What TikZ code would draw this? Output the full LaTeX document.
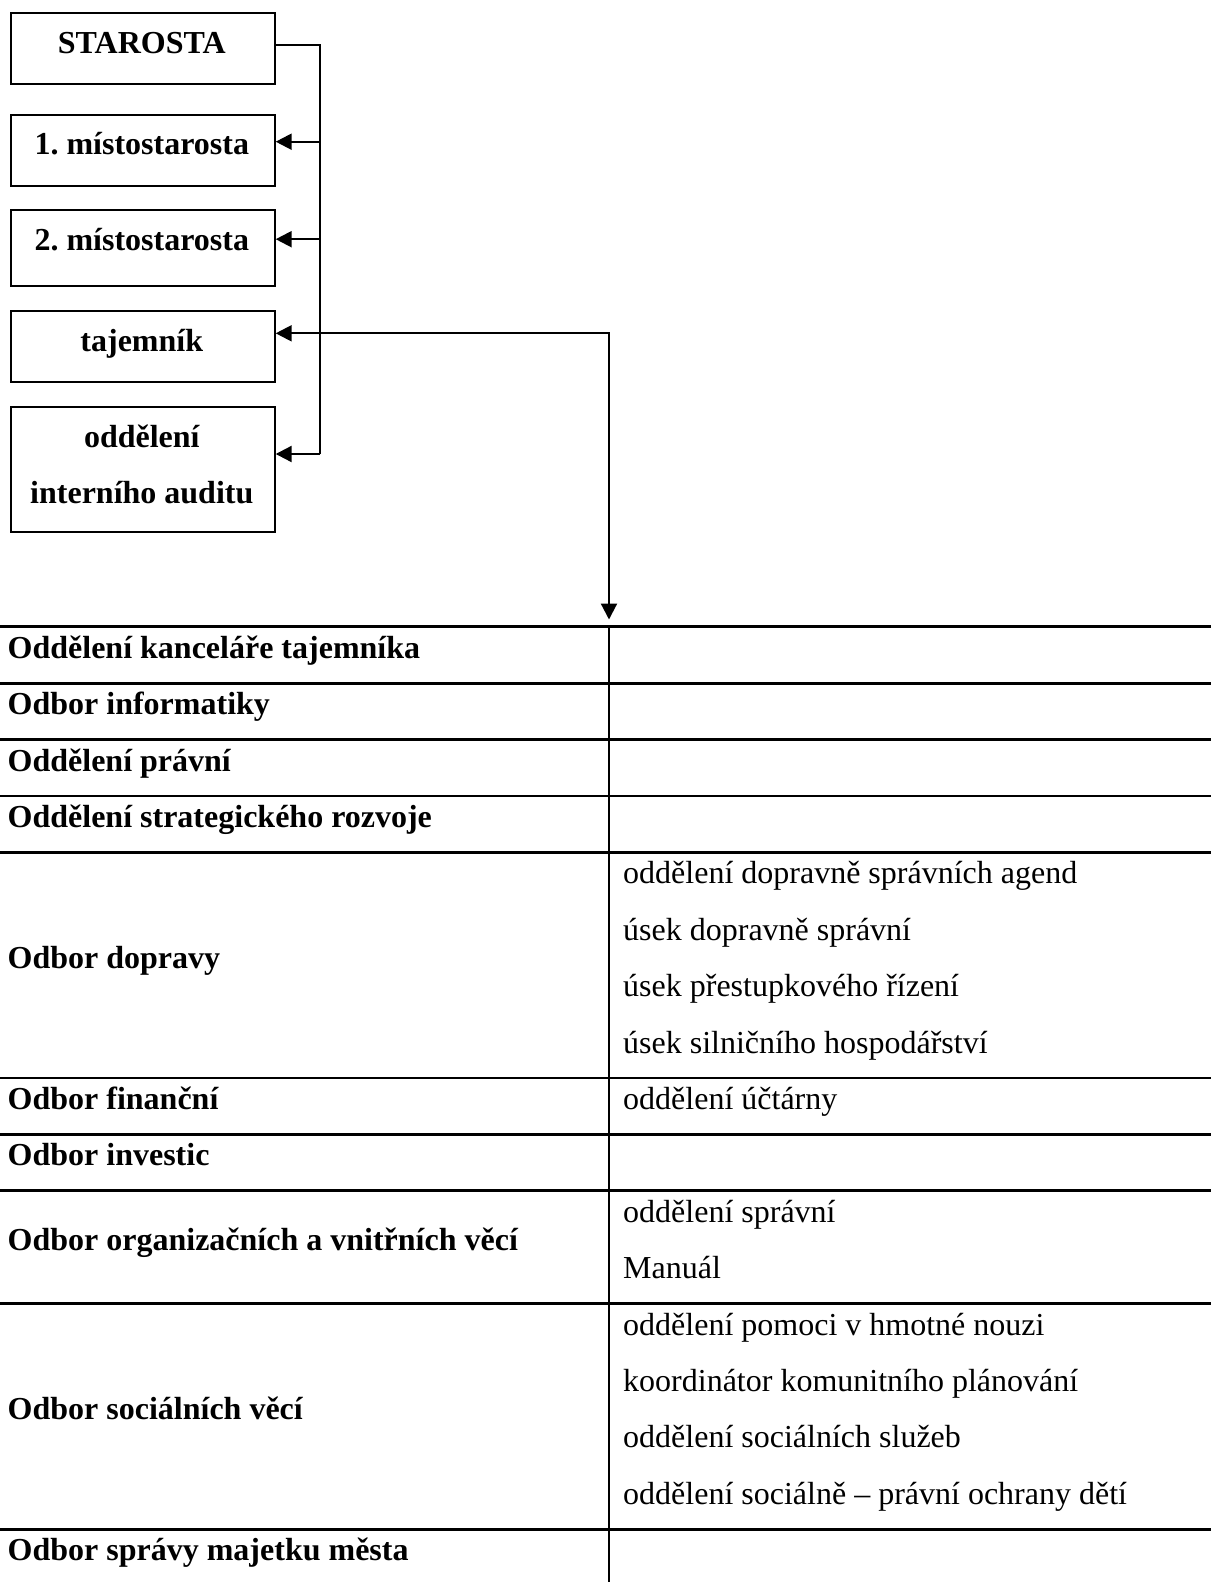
\documentclass[tikz,border=0pt]{standalone}
\usepackage{fontspec}
\setmainfont{Liberation Serif}
\usetikzlibrary{arrows.meta}
\frenchspacing
\begin{document}
\frenchspacing
\begin{tikzpicture}[x=1pt,y=-1pt,
  box/.style={draw, line width=2.2pt, minimum width=263.4pt, minimum height=#1, inner sep=0pt, anchor=north west},
  lbl/.style={font=\bfseries\fontsize{32}{38}\selectfont, anchor=base, inner sep=0pt},
  lcell/.style={font=\bfseries\fontsize{32}{38}\selectfont, anchor=base west, inner sep=0pt},
  rcell/.style={font=\fontsize{32}{38}\selectfont, anchor=base west, inner sep=0pt},
  conn/.style={draw, line width=2.2pt},
  tip/.style={-{Triangle[length=16pt,width=16pt]}},
  hrule/.style={line width=2.8pt},
  vrule/.style={line width=2pt}]
\useasboundingbox (0,0) rectangle (1211,1582);
% boxes
\node[box=70.7pt] (sta) at (10.1,12.1) {};
\node[box=70.7pt] (m1) at (10.1,114) {};
\node[box=75.6pt] (m2) at (10.1,209) {};
\node[box=70.7pt] (taj) at (10.1,309.8) {};
\node[box=125.1pt] (aud) at (10.1,405.7) {};
\node[lbl] (tsta) at (141.8,53) {STAROSTA};
\node[lbl] (tm1) at (141.8,154) {1. místostarosta};
\node[lbl] (tm2) at (141.8,250) {2. místostarosta};
\node[lbl] (ttaj) at (141.8,351) {tajemník};
\node[lbl] (taud1) at (141.8,447) {oddělení};
\node[lbl] (taud2) at (141.8,503) {interního auditu};
% connectors
\coordinate (bustop) at (320.3,45);
\coordinate (busbot) at (320.3,454);
\coordinate (tabtop) at (609,619.5);
\draw[conn] (sta.east |- bustop) -- (bustop) -- (busbot);
\draw[conn,tip] (bustop |- 0,141.7) -- (m1.east |- 0,141.7);
\draw[conn,tip] (bustop |- 0,239.2) -- (m2.east |- 0,239.2);
\draw[conn,tip] (busbot) -- (aud.east |- busbot);
\draw[conn,{Triangle[length=16pt,width=16pt]}-{Triangle[length=16pt,width=16pt]}]
  (taj.east |- 0,333.3) -- (tabtop |- 0,333.3) -- (tabtop);
% table
\foreach \k in {0,1,2,3,4,8,9,10,12,16}
  \draw[hrule] (0,{626.7+56.4*\k}) -- (1211,{626.7+56.4*\k});
\draw[vrule] (609,626.7) -- (609,1582);
% left column
\node[lcell] (l1) at (7.5,658.2) {Oddělení kanceláře tajemníka};
\node[lcell] (l2) at (7.5,714.6) {Odbor informatiky};
\node[lcell] (l3) at (7.5,771) {Oddělení právní};
\node[lcell] (l4) at (7.5,827.4) {Oddělení strategického rozvoje};
\node[lcell] (l5) at (7.5,968) {Odbor dopravy};
\node[lcell] (l6) at (7.5,1109.4) {Odbor finanční};
\node[lcell] (l7) at (7.5,1165.8) {Odbor investic};
\node[lcell] (l8) at (7.5,1250) {Odbor organizačních a vnitřních věcí};
\node[lcell] (l9) at (7.5,1419) {Odbor sociálních věcí};
\node[lcell] (l10) at (7.5,1560.6) {Odbor správy majetku města};
% right column
\node[rcell] (r1) at (623,883.8) {oddělení dopravně správních agend};
\node[rcell] (r2) at (623,940.2) {úsek dopravně správní};
\node[rcell] (r3) at (623,996.6) {úsek přestupkového řízení};
\node[rcell] (r4) at (623,1053) {úsek silničního hospodářství};
\node[rcell] (r5) at (623,1109.4) {oddělení účtárny};
\node[rcell] (r6) at (623,1222.2) {oddělení správní};
\node[rcell] (r7) at (623,1278.6) {Manuál};
\node[rcell] (r8) at (623,1335) {oddělení pomoci v hmotné nouzi};
\node[rcell] (r9) at (623,1391.4) {koordinátor komunitního plánování};
\node[rcell] (r10) at (623,1447.8) {oddělení sociálních služeb};
\node[rcell] (r11) at (623,1504.2) {oddělení sociálně – právní ochrany dětí};
\end{tikzpicture}
\end{document}
